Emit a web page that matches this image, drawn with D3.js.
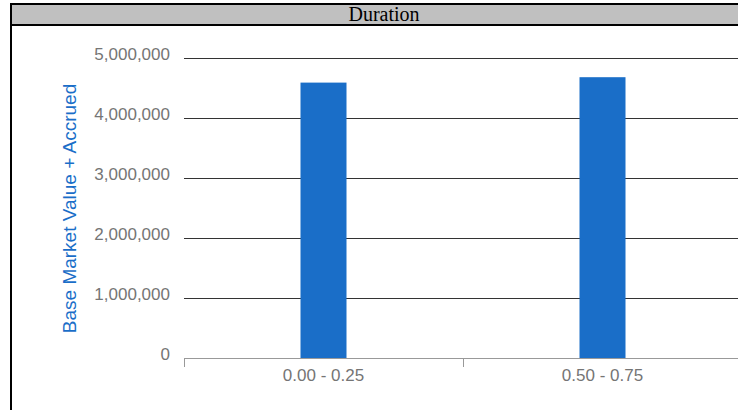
<!DOCTYPE html>
<html>
<head>
<meta charset="utf-8">
<script src="https://cdn.jsdelivr.net/npm/d3@7"></script>
<style>
  html, body { margin: 0; padding: 0; background: #fff; overflow: hidden; }
  svg { display: block; }
</style>
</head>
<body>
<svg id="chart" width="738" height="410"></svg>
<script>
const title = "Duration";
const yAxisTitle = "Base Market Value + Accrued";
const categories = ["0.00 - 0.25", "0.50 - 0.75"];
const values = [4590000, 4680000];
const yTicks = [0, 1000000, 2000000, 3000000, 4000000, 5000000];

const svg = d3.select("#chart");
const W = 738, H = 410;

// frame: title bar and borders
svg.append("rect").attr("x", 10).attr("y", 3).attr("width", W).attr("height", 23).attr("fill", "#c0c0c0");
svg.append("rect").attr("x", 10).attr("y", 3).attr("width", W).attr("height", 2).attr("fill", "#000");
svg.append("rect").attr("x", 10).attr("y", 24).attr("width", W).attr("height", 2).attr("fill", "#000");
svg.append("rect").attr("x", 10).attr("y", 3).attr("width", 2).attr("height", H).attr("fill", "#000");
svg.append("text").attr("x", 384).attr("y", 21)
  .attr("text-anchor", "middle")
  .attr("font-family", "'Liberation Serif', 'Times New Roman', serif")
  .attr("font-size", 20).attr("fill", "#000").text(title);

const x = d3.scaleBand().domain(categories).range([184, 742]).padding(0);
const y = d3.scaleLinear().domain([0, 5000000]).range([358, 58]);
const fmt = d3.format(",");
const font = "'Liberation Sans', Arial, sans-serif";

// gridlines
svg.append("g").selectAll("line").data(yTicks.filter(d => d > 0)).join("line")
  .attr("x1", 184).attr("x2", W)
  .attr("y1", d => Math.round(y(d)) + 0.5).attr("y2", d => Math.round(y(d)) + 0.5)
  .attr("stroke", "#333").attr("stroke-width", 1);

// y tick labels
svg.append("g").selectAll("text").data(yTicks).join("text")
  .attr("x", 170).attr("y", d => y(d) + 2)
  .attr("text-anchor", "end")
  .attr("font-family", font).attr("font-size", 17).attr("fill", "#757575")
  .text(d => fmt(d));

// bars
const barW = 46;
svg.append("g").selectAll("rect").data(categories).join("rect")
  .attr("x", d => x(d) + (x.bandwidth() - barW) / 2)
  .attr("width", barW)
  .attr("y", (d, i) => y(values[i]))
  .attr("height", (d, i) => y(0) - y(values[i]))
  .attr("fill", "#1a6ec8");

// baseline
svg.append("line").attr("x1", 184).attr("x2", W)
  .attr("y1", y(0) + 0.5).attr("y2", y(0) + 0.5)
  .attr("stroke", "#999").attr("stroke-width", 1);

// category ticks
svg.append("g").selectAll("line").data(categories).join("line")
  .attr("x1", d => Math.round(x(d)) + 0.5).attr("x2", d => Math.round(x(d)) + 0.5)
  .attr("y1", y(0)).attr("y2", y(0) + 9)
  .attr("stroke", "#999").attr("stroke-width", 1);

// category labels
svg.append("g").selectAll("text").data(categories).join("text")
  .attr("x", d => x(d) + x.bandwidth() / 2).attr("y", 381)
  .attr("text-anchor", "middle")
  .attr("font-family", font).attr("font-size", 17).attr("fill", "#757575")
  .text(d => d);

// y axis title
svg.append("text")
  .attr("transform", "translate(76,208.5) rotate(-90)")
  .attr("text-anchor", "middle")
  .attr("font-family", font).attr("font-size", 19).attr("fill", "#1a6ec8")
  .text(yAxisTitle);
</script>
</body>
</html>
